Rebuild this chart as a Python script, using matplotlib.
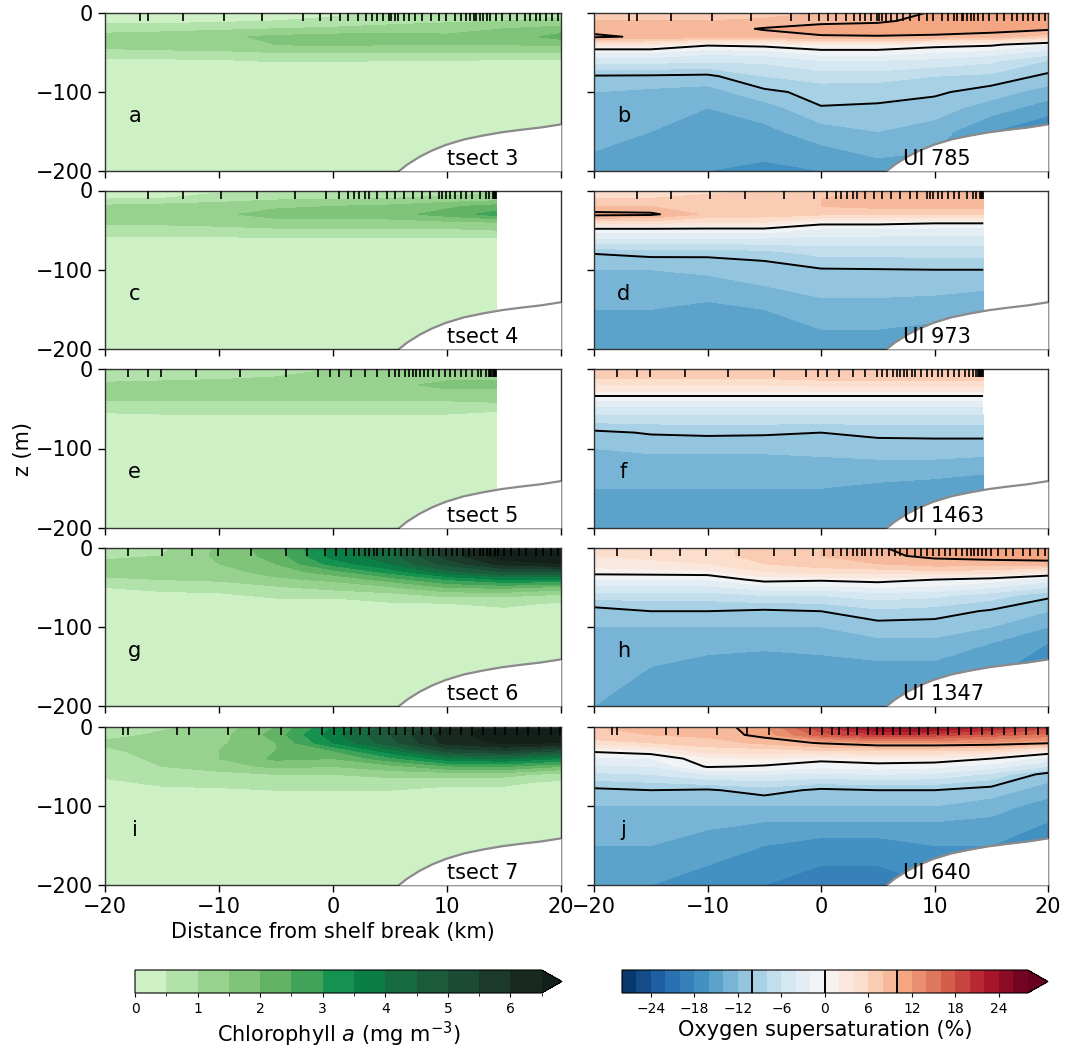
import numpy as np
import matplotlib
matplotlib.use('Agg')
import matplotlib.pyplot as plt
from matplotlib.colors import ListedColormap, BoundaryNorm

# ---------------- data ----------------
X_FULL = [-20, -15, -10, -5, 0, 5, 10, 15, 20]
X_CUT = [-20, -15, -10, -5, 0, 5, 10, 14.3]
Z_CHL = [0, -10, -20, -30, -40, -50, -60, -70, -80, -100, -200]
Z_OX = [0, -10, -20, -30, -40, -50, -60, -80, -100, -120, -150, -200]

transects = ['tsect 3', 'tsect 4', 'tsect 5', 'tsect 6', 'tsect 7']
gliders = ['UI 785', 'UI 973', 'UI 1463', 'UI 1347', 'UI 640']
letters_left = ['a', 'c', 'e', 'g', 'i']
letters_right = ['b', 'd', 'f', 'h', 'j']

# chlorophyll a (mg m-3), rows = Z_CHL, cols = X
chl_tsect3 = [
    [0.30, 0.30, 0.30, 0.35, 0.40, 0.60, 0.70, 0.80, 0.80],
    [0.35, 0.35, 0.40, 0.50, 0.60, 0.80, 0.90, 1.00, 1.10],
    [0.75, 0.80, 0.90, 1.00, 1.10, 1.20, 1.30, 1.50, 1.70],
    [1.20, 1.30, 1.40, 1.60, 1.70, 1.70, 1.60, 1.70, 2.20],
    [1.20, 1.20, 1.30, 1.50, 1.60, 1.50, 1.50, 1.50, 1.60],
    [0.80, 0.90, 0.90, 1.00, 1.00, 1.00, 1.00, 1.00, 1.00],
    [0.40, 0.40, 0.45, 0.55, 0.55, 0.50, 0.50, 0.45, 0.45],
    [0.30, 0.30, 0.30, 0.30, 0.30, 0.30, 0.30, 0.30, 0.30],
    [0.20, 0.20, 0.20, 0.20, 0.20, 0.20, 0.20, 0.20, 0.20],
    [0.15, 0.15, 0.15, 0.15, 0.15, 0.15, 0.15, 0.15, 0.15],
    [0.10, 0.10, 0.10, 0.10, 0.10, 0.10, 0.10, 0.10, 0.10],
]
chl_tsect4 = [
    [0.30, 0.35, 0.40, 0.60, 0.70, 0.70, 0.80, 0.90],
    [0.45, 0.50, 0.70, 0.90, 0.90, 1.00, 1.10, 1.20],
    [1.10, 1.20, 1.30, 1.40, 1.50, 1.60, 1.90, 2.20],
    [1.30, 1.30, 1.40, 1.70, 1.70, 1.80, 2.20, 2.70],
    [1.10, 1.10, 1.20, 1.30, 1.30, 1.30, 1.40, 1.50],
    [0.80, 0.80, 0.80, 0.90, 0.90, 0.90, 0.90, 1.00],
    [0.40, 0.40, 0.45, 0.45, 0.45, 0.45, 0.45, 0.45],
    [0.30, 0.30, 0.30, 0.30, 0.30, 0.30, 0.30, 0.30],
    [0.20, 0.20, 0.20, 0.20, 0.20, 0.20, 0.20, 0.20],
    [0.15, 0.15, 0.15, 0.15, 0.15, 0.15, 0.15, 0.15],
    [0.10, 0.10, 0.10, 0.10, 0.10, 0.10, 0.10, 0.10],
]
chl_tsect5 = [
    [0.60, 0.60, 0.70, 0.80, 1.00, 1.10, 1.20, 1.30],
    [0.80, 0.80, 0.90, 1.00, 1.10, 1.20, 1.40, 1.40],
    [1.10, 1.20, 1.20, 1.20, 1.30, 1.40, 1.60, 1.60],
    [1.20, 1.20, 1.20, 1.20, 1.20, 1.30, 1.40, 1.40],
    [1.00, 1.00, 1.00, 1.00, 1.00, 1.00, 1.00, 1.10],
    [0.60, 0.70, 0.70, 0.70, 0.70, 0.70, 0.70, 0.55],
    [0.40, 0.40, 0.40, 0.40, 0.40, 0.40, 0.40, 0.40],
    [0.30, 0.30, 0.30, 0.30, 0.30, 0.30, 0.30, 0.30],
    [0.20, 0.20, 0.20, 0.20, 0.20, 0.20, 0.20, 0.20],
    [0.15, 0.15, 0.15, 0.15, 0.15, 0.15, 0.15, 0.15],
    [0.10, 0.10, 0.10, 0.10, 0.10, 0.10, 0.10, 0.10],
]
chl_tsect6 = [
    [0.80, 0.90, 1.60, 2.30, 3.70, 4.30, 5.70, 6.80, 7.00],
    [0.90, 1.00, 1.60, 2.20, 3.70, 4.30, 5.70, 6.80, 7.00],
    [1.10, 1.20, 1.50, 2.00, 3.20, 4.00, 5.20, 6.20, 6.50],
    [1.20, 1.20, 1.30, 1.70, 2.30, 3.20, 4.30, 5.00, 5.00],
    [0.90, 1.00, 1.10, 1.40, 1.60, 2.20, 3.00, 3.50, 3.40],
    [0.50, 0.60, 0.60, 0.90, 1.20, 1.40, 2.00, 2.10, 1.80],
    [0.35, 0.40, 0.45, 0.55, 0.55, 0.80, 1.10, 1.10, 0.90],
    [0.30, 0.30, 0.30, 0.40, 0.40, 0.45, 0.50, 0.60, 0.45],
    [0.20, 0.20, 0.20, 0.30, 0.30, 0.30, 0.30, 0.40, 0.30],
    [0.15, 0.15, 0.15, 0.15, 0.15, 0.15, 0.15, 0.15, 0.15],
    [0.10, 0.10, 0.10, 0.10, 0.10, 0.10, 0.10, 0.10, 0.10],
]
chl_tsect7 = [
    [0.70, 0.90, 1.20, 2.00, 3.50, 4.70, 6.00, 6.80, 6.80],
    [0.80, 1.10, 1.30, 2.20, 3.80, 5.00, 6.30, 6.80, 6.80],
    [1.10, 1.20, 1.40, 2.00, 3.50, 4.80, 6.20, 6.60, 6.50],
    [0.90, 1.20, 1.50, 2.00, 2.50, 3.80, 5.20, 5.50, 5.00],
    [0.80, 1.10, 1.50, 2.10, 2.00, 2.80, 3.80, 4.00, 3.50],
    [0.70, 1.00, 1.30, 1.60, 1.50, 1.80, 2.40, 2.50, 2.00],
    [0.60, 0.70, 0.80, 1.00, 1.00, 1.20, 1.20, 1.20, 0.80],
    [0.40, 0.60, 0.60, 0.60, 0.70, 0.70, 0.60, 0.60, 0.40],
    [0.30, 0.40, 0.45, 0.50, 0.50, 0.50, 0.40, 0.40, 0.30],
    [0.20, 0.20, 0.20, 0.20, 0.20, 0.20, 0.20, 0.20, 0.20],
    [0.10, 0.10, 0.10, 0.10, 0.10, 0.10, 0.10, 0.10, 0.10],
]

# oxygen supersaturation (%), rows = Z_OX, cols = X
ox_ui785 = [
    [7.0, 7.0, 7.0, 7.0, 8.0, 8.5, 10.3, 11.0, 11.0],
    [8.0, 8.0, 8.0, 8.5, 9.3, 9.5, 11.0, 11.5, 11.5],
    [9.0, 9.0, 9.0, 10.2, 11.0, 11.5, 11.5, 11.0, 10.5],
    [10.5, 9.5, 9.0, 9.0, 9.75, 9.8, 9.5, 9.0, 7.0],
    [3.0, 3.0, 0.5, 1.0, 2.0, 2.0, 1.0, 0.5, -2.0],
    [-2.0, -2.0, -3.5, -3.0, -1.0, -1.0, -2.0, -3.0, -5.0],
    [-5.0, -5.0, -5.5, -5.5, -4.0, -4.0, -4.5, -5.5, -8.0],
    [-10.2, -10.3, -10.5, -8.0, -7.0, -7.0, -8.0, -8.5, -10.5],
    [-12.0, -12.5, -13.0, -10.5, -9.3, -9.5, -9.6, -11.0, -13.0],
    [-13.0, -13.5, -14.0, -13.0, -10.1, -10.2, -11.0, -13.0, -15.0],
    [-13.5, -14.0, -14.5, -14.5, -13.0, -12.0, -13.0, -16.0, -18.0],
    [-14.5, -15.5, -16.0, -16.5, -16.0, -15.0, -15.0, -17.0, -19.0],
]
ox_ui973 = [
    [5.0, 5.0, 5.5, 6.0, 7.5, 8.0, 8.5, 8.5],
    [6.0, 6.0, 6.5, 7.0, 8.0, 8.5, 9.0, 9.0],
    [8.0, 8.0, 7.5, 7.5, 8.0, 8.5, 8.5, 8.5],
    [10.8, 10.5, 7.5, 7.0, 6.5, 6.5, 6.5, 6.5],
    [5.0, 5.0, 4.0, 4.0, 1.0, 1.0, 0.5, 0.5],
    [-1.0, -1.0, -1.0, -1.0, -2.5, -2.5, -3.0, -3.0],
    [-4.0, -4.0, -4.0, -4.0, -4.5, -4.5, -4.5, -4.5],
    [-10.0, -9.5, -9.6, -9.2, -7.5, -7.5, -7.5, -7.5],
    [-12.0, -12.0, -11.5, -11.0, -10.2, -10.1, -10.0, -10.0],
    [-13.0, -13.0, -13.0, -12.0, -11.0, -11.0, -11.0, -11.5],
    [-14.0, -14.0, -14.5, -14.0, -13.0, -13.0, -13.5, -14.0],
    [-15.5, -15.5, -16.0, -16.0, -15.0, -15.0, -15.0, -16.0],
]
ox_ui1463 = [
    [7.5, 7.5, 7.5, 7.5, 8.0, 8.0, 8.0, 8.0],
    [6.5, 6.5, 6.5, 6.5, 7.0, 7.0, 7.0, 7.0],
    [4.0, 4.0, 4.0, 4.0, 4.5, 4.5, 4.5, 4.5],
    [1.5, 1.5, 1.5, 1.5, 1.5, 1.5, 1.5, 1.5],
    [-2.0, -2.0, -2.0, -2.0, -2.0, -2.0, -2.0, -2.0],
    [-4.5, -4.5, -4.5, -4.5, -4.5, -4.5, -4.5, -4.5],
    [-6.5, -6.5, -6.5, -6.5, -6.5, -6.5, -6.5, -6.5],
    [-10.5, -9.8, -9.6, -9.7, -10.0, -9.5, -9.4, -9.4],
    [-12.0, -11.5, -11.5, -11.5, -11.5, -11.0, -11.0, -11.0],
    [-13.0, -13.0, -13.0, -13.0, -12.5, -12.5, -12.5, -13.0],
    [-14.0, -14.0, -14.0, -14.0, -14.0, -14.5, -15.0, -15.5],
    [-15.0, -15.0, -15.0, -15.0, -16.0, -16.0, -16.0, -17.0],
]
ox_ui1347 = [
    [4.0, 4.5, 5.0, 7.0, 8.0, 9.8, 11.0, 11.5, 12.0],
    [4.0, 4.5, 5.0, 7.0, 8.0, 9.5, 10.5, 11.0, 11.5],
    [3.0, 3.5, 4.0, 6.0, 7.0, 8.0, 9.0, 9.0, 9.0],
    [1.0, 1.2, 1.5, 4.0, 5.0, 5.0, 5.5, 5.0, 3.0],
    [-2.0, -2.0, -2.0, 1.0, 0.5, 1.0, 0.0, -1.0, -3.0],
    [-4.5, -4.5, -4.5, -3.0, -3.0, -2.0, -2.5, -4.0, -6.0],
    [-7.0, -7.0, -7.0, -6.0, -6.0, -5.0, -5.5, -7.0, -9.5],
    [-11.0, -10.0, -10.0, -10.4, -10.0, -8.5, -9.0, -10.3, -12.0],
    [-12.0, -12.0, -12.0, -12.0, -12.0, -11.0, -11.0, -12.0, -14.0],
    [-13.0, -13.5, -13.5, -13.5, -13.0, -12.5, -12.5, -14.0, -16.0],
    [-13.5, -14.0, -14.5, -15.0, -15.0, -14.5, -14.5, -15.5, -17.0],
    [-14.0, -15.0, -15.5, -16.0, -16.0, -15.5, -15.5, -16.5, -18.0],
]
ox_ui640 = [
    [8.0, 8.5, 8.5, 11.5, 20.0, 25.0, 25.0, 22.0, 19.0],
    [7.5, 8.0, 8.5, 10.8, 17.0, 20.0, 19.0, 17.0, 15.0],
    [5.0, 6.0, 7.0, 8.5, 10.3, 12.0, 12.0, 11.5, 10.5],
    [0.5, 1.5, 5.0, 5.0, 6.0, 6.0, 6.0, 5.5, 2.0],
    [-2.5, -2.0, 1.5, 2.0, 0.8, 1.5, 1.5, 0.0, -3.0],
    [-4.5, -4.0, 0.3, -0.3, -1.5, -1.0, -1.5, -3.0, -6.0],
    [-6.5, -6.0, -4.0, -4.0, -4.5, -4.0, -4.5, -6.5, -11.0],
    [-10.5, -10.0, -10.3, -9.0, -10.5, -10.0, -10.0, -11.0, -13.0],
    [-12.0, -12.0, -12.0, -12.0, -12.0, -12.0, -12.0, -13.0, -15.0],
    [-13.0, -13.0, -13.5, -14.0, -14.0, -14.0, -14.0, -14.5, -16.0],
    [-14.0, -14.0, -15.0, -16.0, -17.0, -17.0, -16.0, -16.0, -17.0],
    [-15.0, -16.0, -17.0, -18.0, -19.0, -19.0, -18.0, -18.0, -19.0],
]

chl_fields = [chl_tsect3, chl_tsect4, chl_tsect5, chl_tsect6, chl_tsect7]
ox_fields = [ox_ui785, ox_ui973, ox_ui1463, ox_ui1347, ox_ui640]

# profile (station) positions along each transect (km)
stations_3 = [-16.9, -16.2, -13.2, -9.6, -6.2, -2.6, -1.1, -0.2, 0.6, 1.3, 2.2, 2.9,
              3.4, 3.9, 4.4, 4.9, 5.1, 5.4, 5.7, 6.2, 6.7, 7.2, 7.8, 8.6, 9.3, 9.9,
              10.7, 11.2, 11.7, 12.0, 12.4, 12.5, 12.9, 13.2, 13.5, 13.8, 14.3,
              14.8, 15.5, 16.1, 16.8, 17.3, 17.8, 18.2, 18.7, 19.2, 19.7]
stations_4 = [-16.2, -13.2, -9.8, -6.7, -3.3, -0.6, 0.5, 1.3, 1.8, 2.3, 2.8, 3.2,
              3.9, 4.7, 5.4, 6.2, 7.0, 7.8, 8.5, 9.3, 9.6, 9.9, 10.3, 10.7, 11.2,
              11.7, 12.2, 12.9, 13.4, 13.7, 14.0, 14.1, 14.2, 14.3]
stations_5 = [-18.0, -16.2, -15.1, -12.0, -8.2, -4.1, -1.3, -0.3, 0.5, 1.6, 2.8,
              3.9, 4.9, 5.4, 5.8, 6.3, 6.7, 7.0, 7.3, 7.6, 8.0, 8.3, 8.8, 9.3, 9.8,
              10.3, 10.7, 11.2, 11.7, 12.2, 12.7, 13.0, 13.4, 13.7, 13.8, 13.9,
              14.0, 14.1, 14.2, 14.3]
stations_6 = [-18.0, -15.0, -12.4, -10.1, -7.2, -4.1, -2.3, -0.7, 0.3, 1.1, 1.8,
              2.3, 2.8, 3.2, 3.6, 3.9, 4.4, 4.9, 5.4, 6.0, 6.5, 7.0, 7.6, 8.3, 8.8,
              9.3, 9.9, 10.4, 10.9, 11.4, 11.9, 12.4, 12.9, 13.2, 13.5, 13.8, 14.2,
              14.5, 15.0, 15.6, 16.3, 16.9, 17.8, 18.4, 19.1, 19.7]
stations_7 = [-18.4, -18.0, -13.7, -12.6, -9.2, -6.5, -4.6, -1.0, 0.1, 1.0, 1.6,
              2.4, 3.2, 4.1, 4.9, 5.5, 6.3, 7.0, 7.8, 8.6, 9.4, 10.3, 11.2, 12.2,
              13.2, 14.2, 15.1, 16.1, 17.1, 18.1, 19.1, 19.9]
stations = [stations_3, stations_4, stations_5, stations_6, stations_7]

# bathymetry (sea floor) along the section
bathy_x = [5.8, 6.5, 7.6, 8.7, 9.9, 11.5, 13.2, 14.8, 16.4, 18.2, 20.0]
bathy_z = [-200, -192, -182, -174, -167, -160, -155, -151, -148, -145, -141]

CHL_LEVELS = [0, 0.5, 1, 1.5, 2, 2.5, 3, 3.5, 4, 4.5, 5, 5.5, 6, 6.5]
CHL_TICKS = [0, 1, 2, 3, 4, 5, 6]
OX_LEVELS = list(range(-28, 29, 2))
OX_TICKS = [-24, -18, -12, -6, 0, 6, 12, 18, 24]
OX_LINES = [-10, 0, 10]

# ---------------- styling ----------------
chl_colors = ['#cdf0c5', '#b1e2a9', '#97d38e', '#7fc479', '#63b365', '#3fa35a',
              '#15924f', '#0b7e46', '#166b41', '#1b5b3b', '#1c4b34', '#1b3a2b',
              '#182a20']
chl_cmap = ListedColormap(chl_colors)
chl_cmap.set_over('#13201a')
chl_norm = BoundaryNorm(CHL_LEVELS, len(chl_colors))

FS = 15
W, H = 1065, 1049
fig = plt.figure(figsize=(W / 100, H / 100), dpi=100)

col_left = [105, 594]
col_width = [456, 454]
row_tb = [(13, 171), (190.5, 349), (369, 528), (548, 706), (727, 885)]

cf_chl = None
cf_ox = None
cl_ox = None
for r in range(5):
    for c in range(2):
        top, bot = row_tb[r]
        ax = fig.add_axes([col_left[c] / W, 1 - bot / H, col_width[c] / W, (bot - top) / H])
        if c == 0:
            data = np.array(chl_fields[r])
            X = X_FULL if data.shape[1] == len(X_FULL) else X_CUT
            cf_chl = ax.contourf(X, Z_CHL, data, levels=CHL_LEVELS, cmap=chl_cmap,
                                 norm=chl_norm, extend='max', zorder=1)
        else:
            data = np.array(ox_fields[r])
            X = X_FULL if data.shape[1] == len(X_FULL) else X_CUT
            cf = ax.contourf(X, Z_OX, data, levels=OX_LEVELS, cmap='RdBu_r',
                             extend='max', zorder=1)
            cl = ax.contour(X, Z_OX, data, levels=OX_LINES, colors='k',
                            linewidths=1.4, linestyles='solid', zorder=2)
            if r == 0:
                cf_ox, cl_ox = cf, cl
        ax.fill_between(bathy_x, bathy_z, -200, color='white', zorder=3, lw=0)
        ax.plot(bathy_x, bathy_z, color='#8a8a8a', lw=1.6, zorder=4)
        ax.set_xlim(-20, 20)
        ax.set_ylim(-200, 0)
        ax.set_xticks([-20, -10, 0, 10, 20])
        ax.set_yticks([0, -100, -200])
        ax.tick_params(direction='out', length=5, width=1, labelsize=FS,
                       labelbottom=(r == 4), labelleft=(c == 0))
        for s in ax.spines.values():
            s.set_linewidth(1.0)
            s.set_color('#333333')
        letter = letters_left[r] if c == 0 else letters_right[r]
        ax.text(0.065, 0.35, letter, transform=ax.transAxes, fontsize=FS,
                ha='center', va='center', zorder=5)
        if c == 0:
            ax.text(10, -192, transects[r], fontsize=FS, ha='left', va='baseline', zorder=5)
        else:
            ax.text(7.2, -192, gliders[r], fontsize=FS, ha='left', va='baseline', zorder=5)
        if r == 2 and c == 0:
            ax.set_ylabel('z (m)', fontsize=FS, labelpad=2)
        if r == 4 and c == 0:
            ax.set_xlabel('Distance from shelf break (km)', fontsize=FS, labelpad=4)
        # station marks along the top edge
        tw = ax.twiny()
        tw.set_xlim(-20, 20)
        tw.set_xticks(stations[r])
        tw.tick_params(axis='x', direction='in', length=5.5, width=1.2, top=True,
                       bottom=False, labeltop=False, labelbottom=False)
        for s in tw.spines.values():
            s.set_visible(False)
        tw.patch.set_visible(False)

# colorbars
cax1 = fig.add_axes([135 / W, 1 - 993 / H, (562 - 135) / W, 23 / H])
cb1 = fig.colorbar(cf_chl, cax=cax1, orientation='horizontal', ticks=CHL_TICKS)
cb1.ax.tick_params(labelsize=10, length=3)
cb1.set_label('Chlorophyll $a$ (mg m$^{-3}$)', fontsize=FS, labelpad=3)

cax2 = fig.add_axes([622 / W, 1 - 993 / H, (1048 - 622) / W, 23 / H])
cb2 = fig.colorbar(cf_ox, cax=cax2, orientation='horizontal', ticks=OX_TICKS)
cb2.add_lines(cl_ox)
cb2.ax.tick_params(labelsize=10, length=3)
cb2.set_label('Oxygen supersaturation (%)', fontsize=FS, labelpad=3)

fig.savefig('out.png', dpi=100)
